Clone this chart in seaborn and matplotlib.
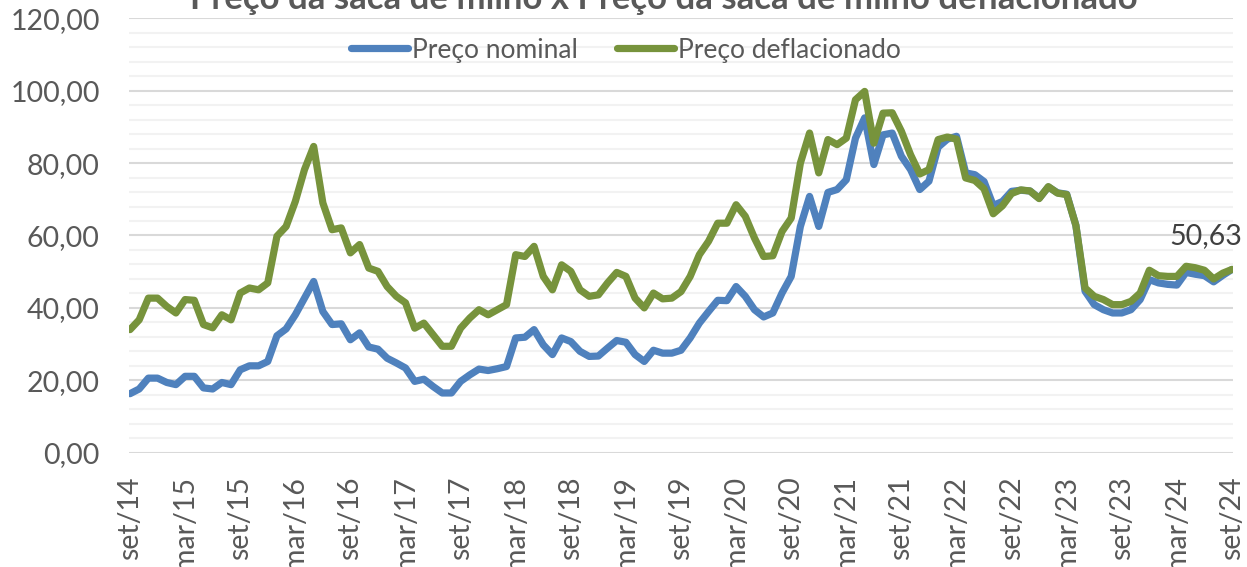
import matplotlib
matplotlib.use("Agg")
import matplotlib.pyplot as plt
from matplotlib.ticker import MultipleLocator, FuncFormatter
import seaborn as sns
import pandas as pd

# ---- data (monthly, set/14 .. set/24) ----
nominal = [
    16.3, 17.6, 20.6, 20.6, 19.4, 18.8, 21.1, 21.1, 17.9, 17.6,
    19.4, 18.8, 22.9, 24.0, 24.0, 25.2, 32.3, 34.2, 38.1, 42.7,
    47.3, 39.0, 35.4, 35.6, 31.2, 33.1, 29.2, 28.6, 26.1, 24.8,
    23.4, 19.7, 20.3, 18.3, 16.5, 16.5, 19.7, 21.5, 23.1, 22.7,
    23.2, 23.8, 31.7, 31.9, 34.0, 29.8, 27.1, 31.7, 30.7, 28.0,
    26.6, 26.7, 28.9, 31.0, 30.5, 27.1, 25.2, 28.3, 27.5, 27.5,
    28.3, 31.7, 35.8, 39.0, 42.1, 42.0, 45.9, 43.2, 39.5, 37.5,
    38.6, 44.1, 48.7, 62.5, 70.8, 62.5, 71.9, 72.7, 75.4, 86.9,
    92.5, 79.6, 87.8, 88.3, 81.9, 78.2, 72.7, 75.0, 84.4, 86.6,
    87.4, 77.3, 76.8, 74.9, 68.3, 69.4, 72.2, 72.5, 72.3, 70.3,
    73.4, 71.8, 71.4, 62.8, 44.6, 40.9, 39.5, 38.6, 38.6, 39.5,
    42.3, 47.8, 46.9, 46.5, 46.3, 49.8, 49.3, 48.9, 47.2, 49.0,
    50.63,
]
deflacionado = [
    34.0, 36.7, 42.7, 42.7, 40.4, 38.6, 42.3, 42.1, 35.4, 34.5,
    38.1, 36.7, 44.1, 45.5, 45.0, 46.9, 59.8, 62.5, 69.4, 78.2,
    84.6, 69.0, 61.6, 62.1, 55.2, 57.5, 51.0, 50.1, 45.9, 43.2,
    41.4, 34.4, 35.8, 32.6, 29.4, 29.4, 34.4, 37.2, 39.5, 38.1,
    39.5, 40.9, 54.7, 54.2, 57.0, 48.7, 45.0, 51.9, 50.1, 45.0,
    43.2, 43.6, 46.9, 49.8, 48.7, 42.7, 40.0, 44.1, 42.5, 42.7,
    44.5, 48.7, 54.7, 58.4, 63.4, 63.4, 68.5, 65.3, 59.3, 54.2,
    54.4, 61.1, 64.8, 80.0, 88.3, 77.3, 86.5, 85.1, 86.9, 97.5,
    99.8, 85.5, 93.8, 93.9, 88.8, 82.3, 77.0, 78.2, 86.5, 87.2,
    86.6, 75.9, 75.2, 72.9, 66.0, 68.2, 71.6, 72.6, 72.3, 70.2,
    73.5, 71.7, 71.3, 62.8, 45.5, 43.2, 42.3, 40.9, 40.9, 41.8,
    44.1, 50.4, 48.9, 48.7, 48.7, 51.5, 51.1, 50.4, 48.0, 49.6,
    50.63,
]
series_names = ["Preço nominal", "Preço deflacionado"]
tick_labels = ["set/14", "mar/15", "set/15", "mar/16", "set/16", "mar/17",
               "set/17", "mar/18", "set/18", "mar/19", "set/19", "mar/20",
               "set/20", "mar/21", "set/21", "mar/22", "set/22", "mar/23",
               "set/23", "mar/24", "set/24"]
title = "Preço da saca de milho x Preço da saca de milho deflacionado"
last_label = "50,63"

# ---- styling ----
sns.set_theme(style="white")
plt.rcParams["font.family"] = ["Lato", "DejaVu Sans"]
blue = "#4F81BD"
green = "#77933C"
txt = "#595959"

n = len(nominal)
df = pd.DataFrame({
    "mes": list(range(n)) * 2,
    "valor": nominal + deflacionado,
    "serie": [series_names[0]] * n + [series_names[1]] * n,
})

fig = plt.figure(figsize=(12.47, 5.67), dpi=100)
fig.patch.set_facecolor("white")
ax = fig.add_axes([129 / 1247, 1 - 452.7 / 567, (1233 - 129) / 1247, (452.7 - 18.3) / 567])

sns.lineplot(data=df, x="mes", y="valor", hue="serie", hue_order=series_names,
             palette=[blue, green], linewidth=5.2, ax=ax)
for l in ax.lines:
    l.set_solid_capstyle("round")
    l.set_solid_joinstyle("round")

ax.set_xlim(-0.11, n - 1 + 0.11)
ax.set_ylim(0, 120)
ax.yaxis.set_major_locator(MultipleLocator(20))
ax.yaxis.set_minor_locator(MultipleLocator(4))
ax.yaxis.set_major_formatter(FuncFormatter(lambda v, p: f"{v:.2f}".replace(".", ",")))
ax.set_xticks(range(0, n, 6))
ax.set_xticklabels(tick_labels, rotation=90)
ax.grid(which="major", axis="y", color="#d9d9d9", lw=1.5)
ax.grid(which="minor", axis="y", color="#f2f2f2", lw=1.5)
ax.grid(which="major", axis="x", visible=False)
ax.set_axisbelow(True)
for s in ax.spines.values():
    s.set_visible(False)
ax.tick_params(axis="y", which="both", length=0, pad=21, labelsize=20.5, labelcolor=txt)
ax.tick_params(axis="x", which="both", length=0, pad=17, labelsize=20.5, labelcolor=txt)
ax.set_xlabel("")
ax.set_ylabel("")

handles, labels = ax.get_legend_handles_labels()
for h in handles:
    h.set_solid_capstyle("round")
    h.set_linewidth(5.2)
ax.legend(handles, labels, loc="center", bbox_to_anchor=(0.45, 0.927), ncol=2,
          frameon=False, fontsize=19, handlelength=2.15, handletextpad=0.15,
          columnspacing=1.5, labelcolor=txt)

ax.annotate(last_label, xy=(n - 1, deflacionado[-1]), xytext=(-19, 24),
            textcoords="offset points", ha="center", va="center",
            fontsize=20.5, color="#404040")

fig.text(0.532, 1 - 9 / 567, title, ha="center", va="baseline",
         fontsize=25, fontweight="bold", color=txt)

fig.savefig("out.png", dpi=100, facecolor="white")
